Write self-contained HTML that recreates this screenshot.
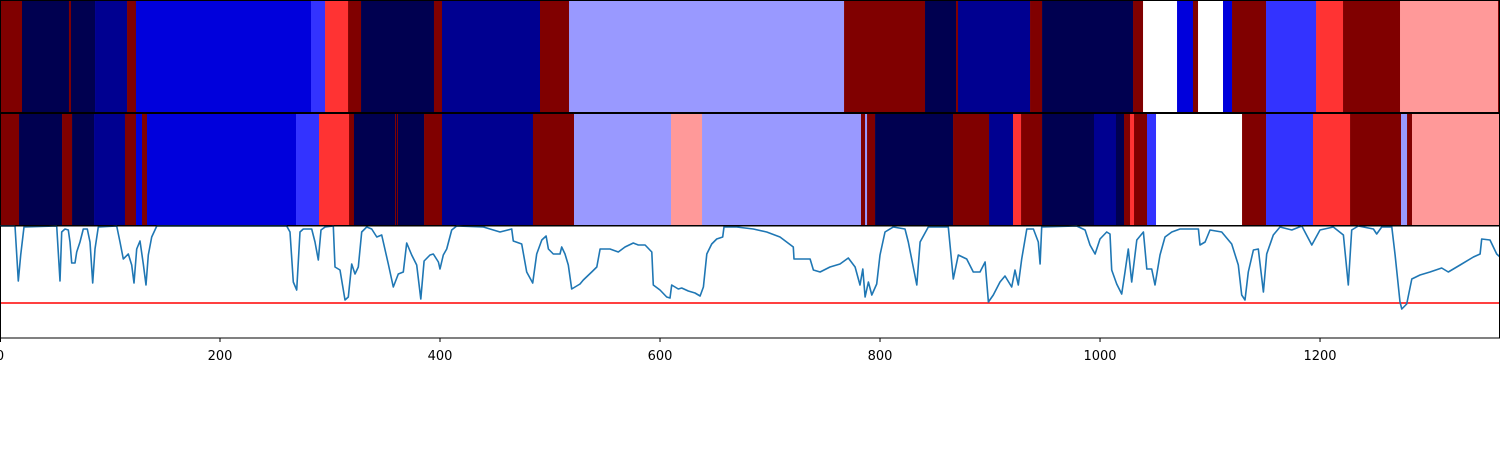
<!DOCTYPE html>
<html><head><meta charset="utf-8">
<style>
html,body{margin:0;padding:0;background:#fff;}
svg{display:block;font-family:"DejaVu Sans","Liberation Sans",sans-serif;}
</style></head>
<body>
<svg id="chart" width="1500" height="450" viewBox="0 0 1500 450" xmlns="http://www.w3.org/2000/svg"></svg>
<script>
// ---- data ----
const stateColors = ["#000050","#000090","#0000dc","#3333ff","#9999ff","#ffffff","#ff9999","#ff3333","#800000"];
const topStarts = [0,20,62.7,64.5,86.4,115.5,123.6,282.7,295.5,316.4,328.2,394.5,401.8,490.9,517.3,767.3,840.9,869.1,870.9,936.4,947.3,1030,1039.1,1070,1084.5,1089.1,1111.8,1120,1150.9,1196.4,1220.9,1272.7,1361.8];
const topStates = [8,0,8,0,1,8,2,3,7,8,0,8,1,8,4,8,0,8,1,8,0,8,5,2,8,5,2,8,3,7,8,6,8];
const midStarts = [0,17.3,56.4,65.5,85.5,113.6,123.6,129.1,133.6,269.1,290,317.3,321.8,359.1,360,360.9,361.8,385.5,401.8,484.5,521.8,610,638.2,782.7,786.4,788.2,795.5,866.4,899.1,920.9,928.2,947.3,994.5,1014.5,1021.8,1027.3,1030.9,1042.7,1050.9,1129.1,1150.9,1193.6,1227.3,1273.6,1279.1,1283.6];
const midStates = [8,0,8,0,1,8,2,8,2,3,7,8,0,8,0,8,0,8,1,8,4,6,4,8,4,8,0,8,1,7,8,0,1,0,8,7,8,3,5,8,3,7,8,4,8,6];
const lineX = [0,13.6,16.6,18.8,21.8,51.5,54.5,56.1,59.1,62.1,63.6,65.2,68.2,69.7,72.7,75.7,79.4,81.8,84.3,86.4,89.4,106.1,109.1,112.1,116.6,119.7,121.8,124.3,127.3,130.3,132.7,134.8,137.9,142.5,260.6,263.6,266.6,269.7,272.7,275.7,283.4,286.4,289.4,291.8,295.5,303,304.5,309.1,313.6,316.6,319.7,322.7,325.7,328.8,333.4,337.9,342.5,347,353,357.5,362.1,366.6,369.7,374.3,378.8,382.5,385.5,390.9,393.9,398.5,400,403,406.1,410.6,415.2,439.4,454.5,465.2,466.6,474.3,478.8,484.3,487.9,492.5,496.4,498.5,503,509.1,510.6,513.6,516.6,519.7,527.3,530.3,537.9,542.5,545.5,554.5,562.1,568.2,575.7,580.3,586.4,592.5,593.9,600,606.1,609.1,610.6,616.6,619.7,625.7,631.8,636.4,639.4,642.5,647,651.5,657,658.2,669.7,684.8,697,709.1,721.2,721.8,736.4,739.4,745.5,754.5,763.6,771.2,777.3,781.8,784.3,786.4,789.4,792.5,797,800,804.5,812.1,822.7,825.7,833.4,836.4,843.9,862.1,866.6,871.2,878.8,884.8,890.9,895.5,898.5,903,909.1,913.6,919.7,922.7,925.7,928.8,933.4,939.4,943.9,945.5,947,978.8,986.4,990.9,995.5,1000,1006.1,1009.1,1010.6,1015.2,1019.7,1022.7,1025.7,1028.8,1033.4,1039.4,1042.5,1047,1050,1054.5,1059.1,1065.2,1072.7,1089.4,1090.9,1095.5,1100,1110.6,1119.7,1125.7,1128.8,1131.8,1134.8,1139.4,1143.9,1148.5,1151.5,1157.5,1163.6,1174.3,1183.4,1192.5,1200,1212.1,1221.2,1225.7,1228.8,1234.8,1248.5,1251.5,1256.1,1265.2,1268.2,1272.7,1274.3,1278.8,1283.4,1290.9,1300,1310.6,1316.6,1327.3,1339.4,1345.5,1347,1354.5,1360.6,1363.6];
const lineY = [112,112,57,83,111,112,57,106,109,108,96,75,75,86,96,109,109,96,55,89,111,112,96,79,84,73,55,89,97,74,53,83,101,112,112,106,56,48,106,109,109,96,78,108,111,112,71,68,38,41,74,64,71,106,111,109,101,103,74,51,64,66,95,83,73,39,77,83,84,76,69,83,89,108,112,111,106,109,97,94,66,55,84,98,102,89,84,84,91,84,73,49,54,58,66,71,89,89,86,91,95,93,93,86,53,48,41,40,53,49,50,47,45,42,51,84,94,99,101,111,111,109,106,101,91,79,79,68,66,71,74,80,71,53,69,41,56,43,54,83,106,111,109,96,53,96,111,111,59,83,79,66,66,76,36,43,56,62,51,68,53,79,109,109,96,74,111,112,108,93,84,99,106,104,68,54,44,66,89,56,98,106,69,69,53,83,101,106,109,109,93,96,108,106,94,73,43,38,66,88,89,46,84,103,111,108,112,93,108,111,103,53,108,112,109,104,111,111,83,36,29,34,59,63,66,70,66,73,81,84,99,98,84,81];
const threshold = [35];
const xTicks = [0,200,400,600,800,1000,1200];

// ---- scales ----
const X0 = 0, X1 = 1500, XMAX = 1363.6;
const xs = v => X0 + (v / XMAX) * (X1 - X0);
const LY0 = 338, LY1 = 226, YMAX = 112;
const ys = v => LY0 - (Math.min(v, YMAX) / YMAX) * (LY0 - LY1);

const NS = "http://www.w3.org/2000/svg";
const svg = document.getElementById("chart");
function mk(tag, attrs, parent) {
  const e = document.createElementNS(NS, tag);
  for (const k in attrs) e.setAttribute(k, attrs[k]);
  (parent || svg).appendChild(e);
  return e;
}

function strip(starts, states, y0, y1, name) {
  const g = mk("g", {});
  
  
  for (let i = 0; i < starts.length; i++) {
    const a = xs(starts[i]);
    const b = i + 1 < starts.length ? xs(starts[i + 1]) : X1;
    const r = mk("rect", {x: a, y: y0, width: Math.max(0, b - a) + 0.3, height: y1 - y0, fill: stateColors[states[i]]}, g);
    
    
  }
  const f = mk("rect", {x: 0.5, y: y0 + 0.5, width: 1499, height: y1 - y0 - 1, fill: "none", stroke: "#000", "stroke-width": 1}, g);
  
  
}
strip(topStarts, topStates, 0, 113, 'top-state-strip');
strip(midStarts, midStates, 113, 226, 'middle-state-strip');

// line panel
const lp = mk("g", {});


const thr = mk("line", {x1: 0, x2: 1500, y1: ys(threshold[0]), y2: ys(threshold[0]), stroke: "#ff0000", "stroke-width": 1.5}, lp);


let d = "";
for (let i = 0; i < lineX.length; i++) d += (i ? "L" : "M") + xs(lineX[i]).toFixed(1) + " " + ys(lineY[i]).toFixed(1);
const ln = mk("path", {d: d, fill: "none", stroke: "#1f77b4", "stroke-width": 1.6, "stroke-linejoin": "round"}, lp);


const fr = mk("rect", {x: 0.5, y: 226, width: 1499, height: 112, fill: "none", stroke: "#000", "stroke-width": 1}, lp);



// x axis
const ax = mk("g", {});


xTicks.forEach(t => {
  const x = Math.max(0.5, xs(t));
  const tk = mk("line", {x1: x, x2: x, y1: 338, y2: 342, stroke: "#000", "stroke-width": 1}, ax);
  
  
  const tl = mk("text", {x: xs(t), y: 360, "text-anchor": "middle", "font-size": 13, fill: "#000"}, ax);
  tl.textContent = String(t);
  
  
});
</script>
</body></html>
